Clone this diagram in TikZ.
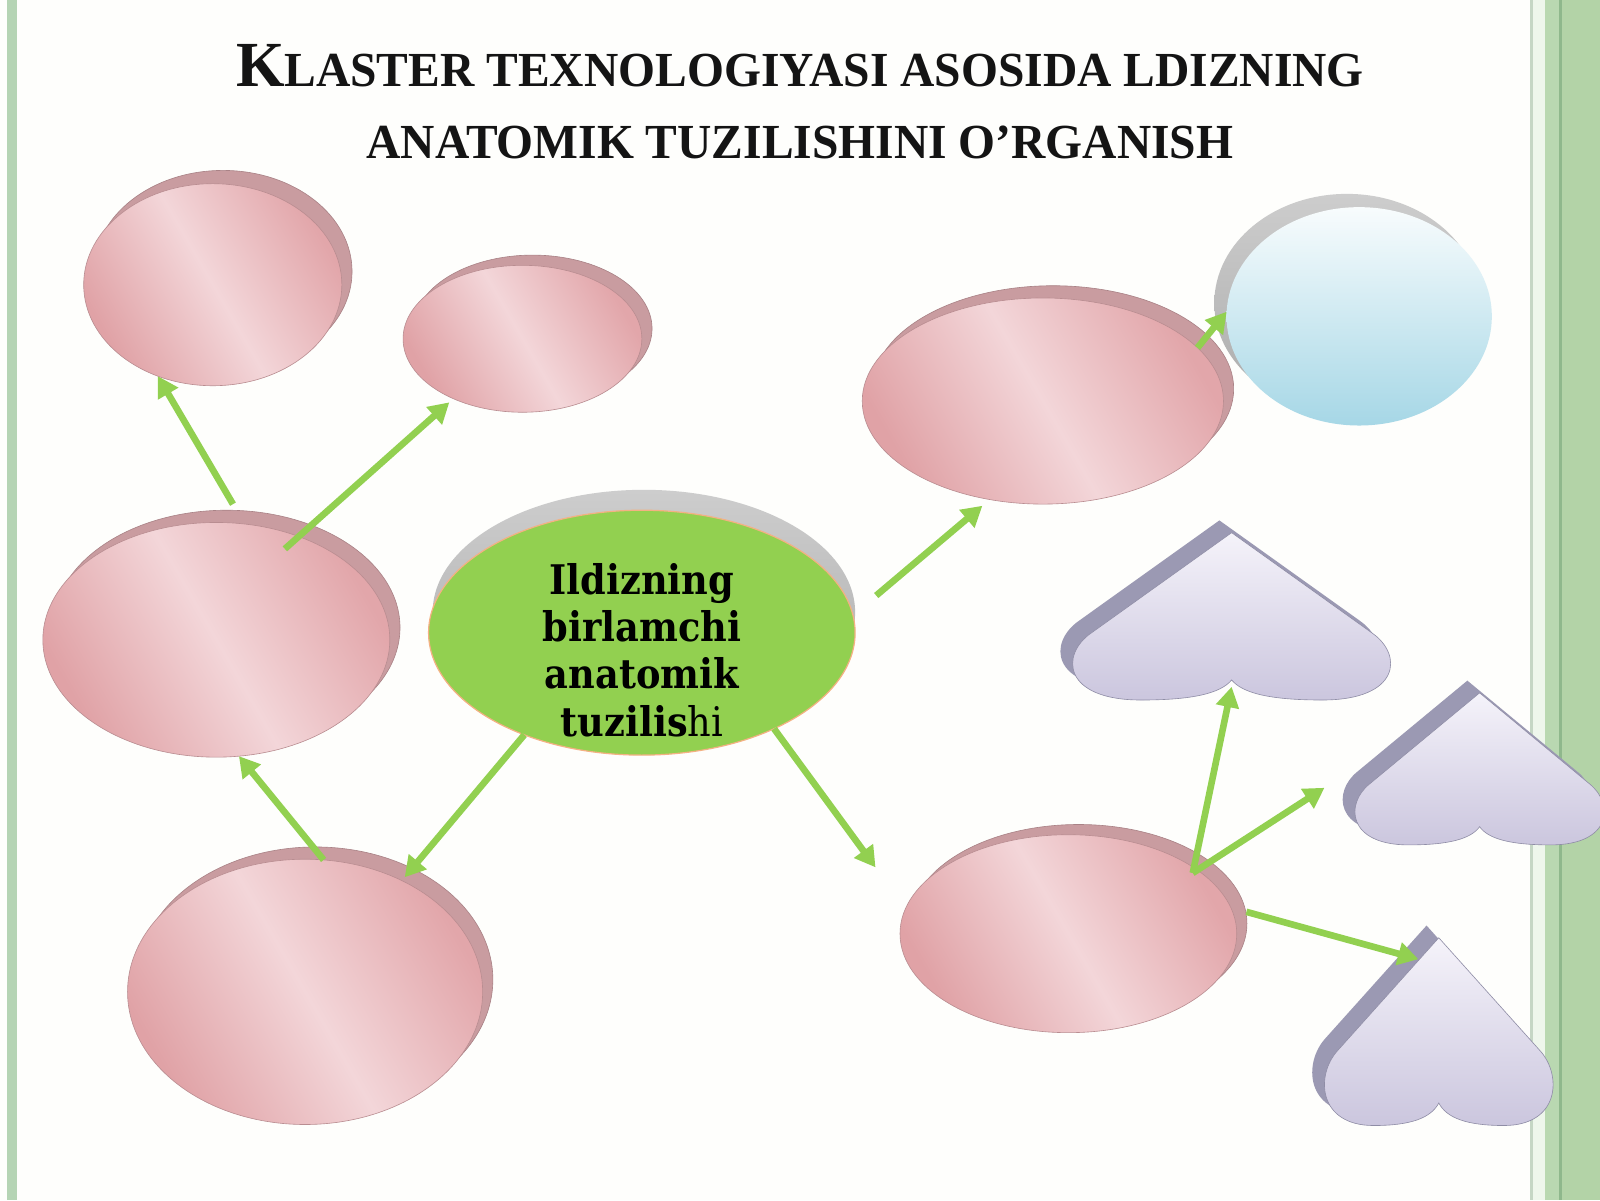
\documentclass[tikz,border=0pt]{standalone}
\usepackage{fontspec}
\usepackage{graphicx}
\setmainfont{Liberation Serif}
\newfontfamily\ctrfont{DejaVu Serif Condensed}
\usetikzlibrary{shapes.geometric,arrows.meta,calc}
\definecolor{bgcol}{HTML}{FEFEFC}
\definecolor{stripeL}{HTML}{B5D4B4}
\definecolor{bordA}{HTML}{C5D6C5}
\definecolor{bordB}{HTML}{EEF6EC}
\definecolor{bordC}{HTML}{B9D8B1}
\definecolor{bordD}{HTML}{8FB88C}
\definecolor{bordE}{HTML}{B3D3A7}
\definecolor{pinkA}{HTML}{E0A2A6}
\definecolor{pinkB}{HTML}{F3D6D9}
\definecolor{pinkC}{HTML}{E2A6AA}
\definecolor{rimpink}{HTML}{C99CA0}
\definecolor{rimpinkdk}{HTML}{A98286}
\definecolor{pinkline}{HTML}{B98D91}
\definecolor{greenface}{HTML}{92D050}
\definecolor{greenline}{HTML}{F4B183}
\definecolor{grayrimA}{HTML}{CDCDCD}
\definecolor{grayrimB}{HTML}{ABABAB}
\definecolor{blueA}{HTML}{F8FCFD}
\definecolor{blueB}{HTML}{A6D7E6}
\definecolor{heartA}{HTML}{F5F3FA}
\definecolor{heartB}{HTML}{CBC6DE}
\definecolor{heartrimcol}{HTML}{9B99B3}
\definecolor{heartline}{HTML}{8F8DA6}
\definecolor{arrgreen}{HTML}{92D050}
\definecolor{titlecol}{HTML}{141414}
\tikzset{
  disk/.style={ellipse, inner sep=0pt, outer sep=0pt},
  pinkrim/.style={disk, fill=rimpink, draw=rimpinkdk, line width=0.6pt},
  pinkface/.style={disk, draw=pinkline, line width=0.6pt, left color=pinkA, right color=pinkC, middle color=pinkB, shading angle=120},
  grayrim/.style={disk, top color=grayrimA, bottom color=grayrimB},
  greendisk/.style={disk, fill=greenface, draw=greenline, line width=1.2pt},
  bluedisk/.style={disk, top color=blueA, bottom color=blueB},
  heartrim/.style={fill=heartrimcol},
  heartface/.style={top color=heartA, bottom color=heartB, draw=heartline, line width=0.6pt},
  arr/.style={draw=arrgreen, line width=6.5pt, -{Triangle[width=22pt,length=20pt]}},
  titletext/.style={anchor=base, text=titlecol, font=\bfseries\fontsize{48}{52}\selectfont, inner sep=0pt},
}
\newcommand\heart[4]{%
  \begin{scope}[shift={(#1-12,#2-12)},xscale=#3,yscale=#4]
    \path[heartrim] (0,0) -- (-0.9,0.6) .. controls (-1.1,0.73) and (-1.08,1.0) .. (-0.58,1.0) .. controls (-0.25,1.0) and (-0.07,0.96) .. (0,0.88) .. controls (0.07,0.96) and (0.25,1.0) .. (0.58,1.0) .. controls (1.08,1.0) and (1.1,0.73) .. (0.9,0.6) -- cycle;
  \end{scope}
  \begin{scope}[shift={(#1,#2)},xscale=#3,yscale=#4]
    \path[heartface] (0,0) -- (-0.9,0.6) .. controls (-1.1,0.73) and (-1.08,1.0) .. (-0.58,1.0) .. controls (-0.25,1.0) and (-0.07,0.96) .. (0,0.88) .. controls (0.07,0.96) and (0.25,1.0) .. (0.58,1.0) .. controls (1.08,1.0) and (1.1,0.73) .. (0.9,0.6) -- cycle;
  \end{scope}}
\begin{document}
\begin{tikzpicture}[x=1pt,y=-1pt]
\useasboundingbox (0,0) rectangle (1568,1176);
\fill[bgcol] (0,0) rectangle (1568,1176);
% borders
\fill[stripeL] (7,0) rectangle (17,1176);
\fill[bordA] (1499,0) rectangle (1502,1176);
\fill[bordB] (1502,0) rectangle (1514,1176);
\fill[bordC] (1514,0) rectangle (1528,1176);
\fill[bordD] (1528,0) rectangle (1530.5,1176);
\fill[bordE] (1530.5,0) rectangle (1568,1176);
% title
\node[titletext] (t1) at (784,85) {\scalebox{0.97}[1]{{\fontsize{63}{63}\selectfont K}LASTER TEXNOLOGIYASI ASOSIDA LDIZNING}};
\node[titletext] (t2) at (784,155) {\scalebox{0.97}[1]{ANATOMIK TUZILISHINI O’RGANISH}};
% pink disks
\node[pinkrim, minimum width=253pt, minimum height=198pt] (e1r) at (218.5,266) {};
\node[pinkface, minimum width=253pt, minimum height=198pt] (e1) at (208.5,279) {};
\node[pinkrim, minimum width=234pt, minimum height=144pt] (e2r) at (522,322) {};
\node[pinkface, minimum width=234pt, minimum height=144pt] (e2) at (512,332) {};
\node[pinkrim, minimum width=340pt, minimum height=230pt] (e3r) at (222,615) {};
\node[pinkface, minimum width=340pt, minimum height=230pt] (e3) at (212,627) {};
\node[pinkrim, minimum width=348pt, minimum height=260pt] (e4r) at (309,960) {};
\node[pinkface, minimum width=348pt, minimum height=260pt] (e4) at (299,972) {};
\node[pinkrim, minimum width=354pt, minimum height=202pt] (e5r) at (1032,381) {};
\node[pinkface, minimum width=354pt, minimum height=202pt] (e5) at (1022,393) {};
\node[pinkrim, minimum width=330pt, minimum height=194pt] (e6r) at (1057,905) {};
\node[pinkface, minimum width=330pt, minimum height=194pt] (e6) at (1047,915) {};
% blue disk
\node[grayrim, minimum width=260pt, minimum height=214pt] (br) at (1320,297) {};
\node[bluedisk, minimum width=260pt, minimum height=214pt] (b) at (1332,310) {};
% centre
\node[grayrim, minimum width=414pt, minimum height=240pt] (cr) at (631,600) {};
\node[greendisk, minimum width=418pt, minimum height=240pt] (c) at (629,620) {};
\node[align=center, inner sep=0pt, font=\ctrfont\bfseries\fontsize{40}{46.5}\selectfont] (ctext) at (629,637)
  {Ildizning\\birlamchi\\anatomik\\tuzilis{\mdseries hi}};
% hearts
\heart{1207}{522}{153}{164}
\heart{1450}{679}{120}{149}
\heart{1410}{919}{110}{184}
\coordinate (h1) at (1207,673);
\coordinate (h3) at (1390,940);
\coordinate (a9end) at (1298,772);
\coordinate (a6end) at (858,850);
% arrows
\draw[arr] ($(e3.center)!1.16!(e3.83)$) -- (e1.239);
\draw[arr] ($(e3.center)!0.87!(e3.53)$) -- ($(e2.center)!1.06!(e2.221)$);
\draw[arr] (e4.82) -- (e3.281);
\draw[arr] (c.221) -- ($(e4.center)!1.03!(e4.49)$);
\draw[arr] ($(c.center)!1.14!(c.9)$) -- ($(e5.center)!1.07!(e5.240)$);
\draw[arr] (c.324) -- (a6end);
\draw[arr] (e5.19) -- (b.178);
\draw[arr] ($(e6.center)!0.96!(e6.26)$) -- (h1);
\draw[arr] ($(e6.center)!0.96!(e6.26)$) -- (a9end);
\draw[arr] ($(e6.center)!1.08!(e6.7)$) -- (h3);
\end{tikzpicture}
\end{document}
